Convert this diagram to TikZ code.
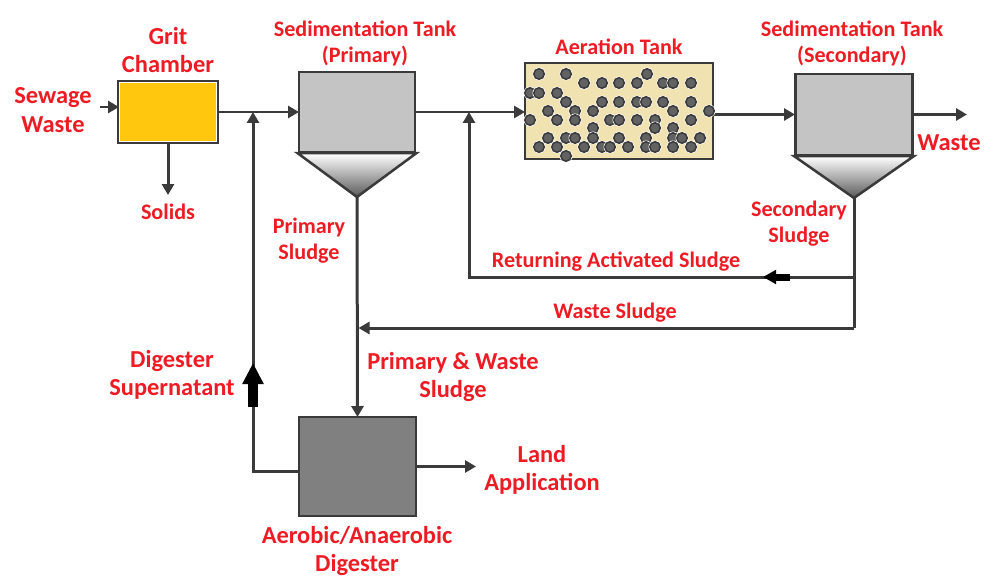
\documentclass[tikz,border=0pt]{standalone}
\usepackage{fontspec}
\setmainfont{Carlito}
\usetikzlibrary{positioning,arrows.meta}
\definecolor{LabelRed}{HTML}{ED1C24}
\definecolor{GritYellow}{HTML}{FFC80E}
\definecolor{TankGray}{HTML}{C4C4C4}
\definecolor{AerBeige}{HTML}{F0E2B1}
\definecolor{DigGray}{HTML}{808080}
\definecolor{EdgeGray}{HTML}{3A3A3A}
\definecolor{BubbleGray}{HTML}{626262}

\begin{document}
\begin{tikzpicture}[x=0.02cm, y=-0.02cm, >={Triangle[length=0.22cm,width=0.24cm]},
  every node/.style={font=\bfseries\fontsize{12.6}{14.8}\selectfont},
  label/.style={text=LabelRed, align=center, inner sep=0pt},
  biglabel/.style={label, font=\bfseries\fontsize{13.9}{16.3}\selectfont},
  gritbox/.style={draw=EdgeGray, line width=0.055cm, fill=GritYellow, minimum width=1.98cm, minimum height=1.24cm, inner sep=0pt},
  tankbox/.style={draw=EdgeGray, line width=0.05cm, fill=TankGray, minimum width=2.32cm, minimum height=1.6cm, inner sep=0pt},
  aerbox/.style={draw=EdgeGray, line width=0.055cm, fill=AerBeige, minimum width=3.76cm, minimum height=1.92cm, inner sep=0pt},
  digbox/.style={draw=EdgeGray, line width=0.05cm, fill=DigGray, minimum width=2.34cm, minimum height=1.98cm, inner sep=0pt},
  cone/.style={draw=EdgeGray, line width=0.05cm, top color=white, bottom color=black!65},
  bubble/.style={fill=BubbleGray, draw=EdgeGray, line width=0.03cm},
  pipe/.style={draw=EdgeGray, line width=0.06cm},
  flow/.style={pipe, ->}]
  \fill[white] (0,0) rectangle (993,581);
  \useasboundingbox (0,0) rectangle (993,581);

  % Coordinates
  \coordinate (sewin) at (100,107);
  \coordinate (solidsend) at (168,195);
  \coordinate (priapex) at (357,197);
  \coordinate (secapex) at (854,198);
  \coordinate (j1) at (253,112);
  \coordinate (j2) at (469,112);
  \coordinate (wasteend) at (967,114.5);
  \coordinate (retstart) at (854,277);
  \coordinate (wastecorner) at (854,328);
  \coordinate (landend) at (476,466.5);
  \coordinate (supcorner) at (253,471);

  % Paths
  \draw[flow] (sewin) -- (119,107);
  \draw[flow] (168,143) -- (solidsend);
  \draw[flow] (218,112) -- (299,112);
  \draw[flow] (415,112) -- (525,112);
  \draw[flow] (713,114.5) -- (795,114.5);
  \draw[flow] (912,114.5) -- (wasteend);
  \draw[pipe] (secapex) -- (wastecorner);
  \draw[flow, shorten >=0.03cm] (wastecorner) -- (wastecorner -| priapex);
  \draw[flow] (retstart) -- (retstart -| j2) -- (j2);
  \draw[flow] (priapex) -- (357.5,417);
  \draw[flow] (416,466.5) -- (landend);
  \draw[flow] (299,471) -- (supcorner) -- (j1);
  \draw[line width=0.14cm, -{Triangle[length=0.26cm,width=0.27cm]}] (790,277) -- (763,277);
  \draw[line width=0.2cm, -{Triangle[length=0.42cm,width=0.4cm]}] (253,407) -- (253,363);

  % Nodes
  \node[gritbox] (grit) at (168,112) {};
  \draw[white, line width=0.02cm] ([shift={(2.5,2.5)}]grit.north west) rectangle ([shift={(-2.5,-2.5)}]grit.south east);
  \node[tankbox] (primary) at (357,112) {};
  \draw[cone] (primary.south west) -- (primary.south east) -- (priapex) -- cycle;
  \node[aerbox] (aeration) at (619,111) {};
  \foreach \cx/\cy in {539/74, 566/74, 647/74,
      584/83, 602/83, 619/83, 637/83, 663/83, 673/83, 691/83,
      530/93, 539/93, 557/93,
      566/102, 602/102, 619/102, 637/102, 646/102, 663/102, 691/102,
      548/111, 575/111, 593/111, 673/111, 709/111,
      530/120, 557/120, 575/120, 610/120, 619/120, 637/120, 655/120, 691/120,
      593/128, 655/128, 673/128,
      548/138, 566/138, 575/138, 593/138, 619/138, 646/138, 673/138, 682/138, 700/138,
      539/147, 557/147, 584/147, 602/147, 610/147, 628/147, 646/147, 655/147, 673/147, 691/147,
      566/156}
    {\fill[white] (\cx,\cy) circle[radius=0.13cm];
     \draw[bubble] (\cx,\cy) circle[radius=0.105cm];}
  \node[tankbox, minimum width=2.34cm, minimum height=1.62cm] (secondary) at (854,114.5) {};
  \draw[cone] (secondary.south west) -- (secondary.south east) -- (secapex) -- cycle;
  \node[digbox] (digester) at (357.5,466.5) {};

  % Labels
  \node[biglabel] (sewagelbl) at (53,110) {Sewage\\Waste};
  \node[biglabel] (gritlbl) at (168,50) {Grit\\Chamber};
  \node[label] (solidslbl) at (168,212) {Solids};
  \node[label] (primarylbl) at (365,43) {Sedimentation Tank\\(Primary)};
  \node[label] (aerationlbl) at (619,47) {Aeration Tank};
  \node[label] (secondarylbl) at (852,43) {Sedimentation Tank\\(Secondary)};
  \node[biglabel] (wastelbl) at (949,143) {Waste};
  \node[label] (prisludgelbl) at (309,241) {Primary\\Sludge};
  \node[label] (secsludgelbl) at (799,224) {Secondary\\Sludge};
  \node[label] (returnlbl) at (616,262) {Returning Activated Sludge};
  \node[label] (wastesludgelbl) at (615,313) {Waste Sludge};
  \node[biglabel] (superlbl) at (172,375) {Digester\\Supernatant};
  \node[biglabel] (mixlbl) at (453,377) {Primary \& Waste\\Sludge};
  \node[biglabel] (landlbl) at (542,470) {Land\\Application};
  \node[biglabel] (digesterlbl) at (357,551) {Aerobic/Anaerobic\\Digester};
\end{tikzpicture}
\end{document}
